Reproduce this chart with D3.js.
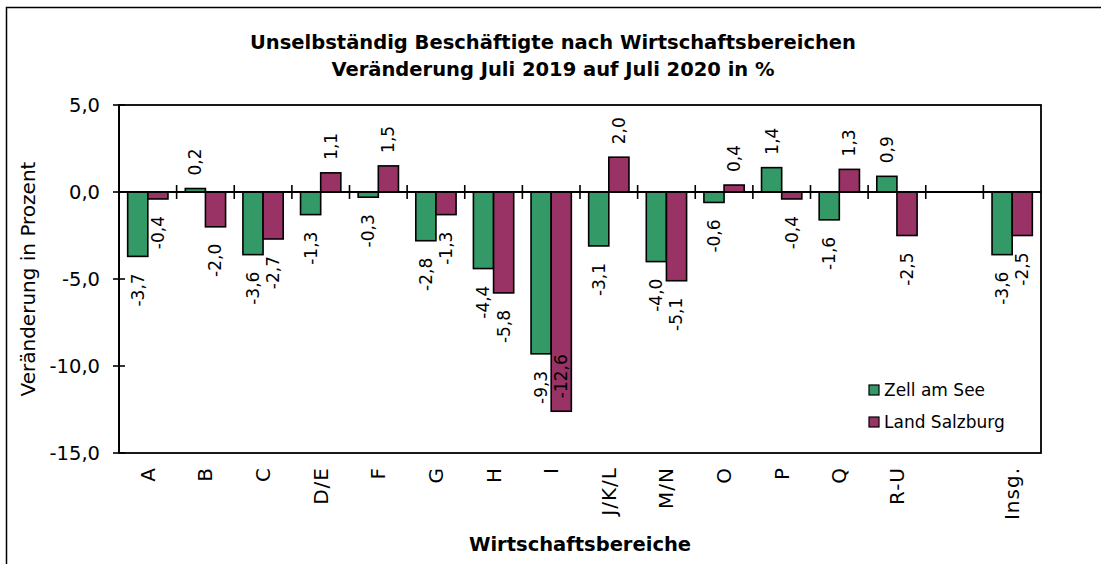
<!DOCTYPE html>
<html>
<head>
<meta charset="utf-8">
<style>
body, html {
  margin: 0;
  background: #fff;
  font-family: "DejaVu Sans", sans-serif;
}
.bar { stroke: #000; stroke-width: 1.6; }
.frame { fill: none; stroke: #000; stroke-width: 1.8; }
</style>
<script src="https://cdn.jsdelivr.net/npm/d3@7"></script>
</head>
<body>
<div id="chart"></div>
<script>

// data
var categories = ["A", "B", "C", "D/E", "F", "G", "H", "I", "J/K/L", "M/N", "O", "P", "Q", "R-U", "", "Insg."];
var zellAmSee = [-3.7, 0.2, -3.6, -1.3, -0.3, -2.8, -4.4, -9.3, -3.1, -4.0, -0.6, 1.4, -1.6, 0.9, null, -3.6];
var landSalzburg = [-0.4, -2.0, -2.7, 1.1, 1.5, -1.3, -5.8, -12.6, 2.0, -5.1, 0.4, -0.4, 1.3, -2.5, null, -2.5];
var seriesNames = ["Zell am See", "Land Salzburg"];
var yTicks = [5, 0, -5, -10, -15];
var titleLines = ["Unselbständig Beschäftigte nach Wirtschaftsbereichen", "Veränderung Juli 2019 auf Juli 2020 in %"];

var colors = ["#339966", "#993366"];

var width = 1101, height = 564;
var margin = {left: 119, right: 60, top: 105, bottom: 111};

var svg = d3.select("#chart").append("svg")
    .attr("width", width)
    .attr("height", height);

// outer chart frame (cut off at the right and bottom)
svg.append("rect")
    .attr("x", 6.5).attr("y", 7.5)
    .attr("width", width).attr("height", height)
    .attr("fill", "none").attr("stroke", "#000").attr("stroke-width", 1.5);

var x = d3.scaleBand()
    .domain(d3.range(categories.length))
    .range([margin.left, width - margin.right])
    .paddingInner(0).paddingOuter(0);

var y = d3.scaleLinear()
    .domain([-15, 5])
    .range([height - margin.bottom, margin.top]);

var inner = d3.scaleBand()
    .domain([0, 1])
    .range([0, x.bandwidth()])
    .paddingInner(0).paddingOuter(0.43);

// decimal comma, plain hyphen as minus
var fmt = function(v) { return d3.format(".1f")(v).replace(".", ",").replace("\u2212", "-"); };

// title
svg.append("g").selectAll("text")
  .data(titleLines)
  .enter().append("text")
    .attr("x", 553)
    .attr("y", function(d, i) { return 49 + i * 27; })
    .attr("text-anchor", "middle")
    .attr("font-size", 19.5)
    .attr("font-weight", "bold")
    .text(function(d) { return d; });

// plot frame
svg.append("rect")
    .attr("class", "frame")
    .attr("x", x.range()[0]).attr("y", y(5))
    .attr("width", x.range()[1] - x.range()[0])
    .attr("height", y(-15) - y(5));

// bars
var series = [zellAmSee, landSalzburg];
series.forEach(function(values, s) {
  var g = svg.append("g");
  values.forEach(function(v, i) {
    if (v === null) return;
    var bx = x(i) + inner(s);
    g.append("rect")
      .attr("class", "bar")
      .attr("fill", colors[s])
      .attr("x", bx)
      .attr("width", inner.bandwidth())
      .attr("y", y(Math.max(0, v)))
      .attr("height", Math.abs(y(v) - y(0)));

    var cx = bx + inner.bandwidth() / 2;
    var ly, anchor;
    if (v >= 0) {
      ly = y(v) - 13; anchor = "start";
    } else {
      ly = y(v) + 17; anchor = "end";
      // would overflow the plot: put it inside the bar end
      if (ly + 50 > y(-15)) { ly = y(v) - 13; anchor = "start"; }
    }
    g.append("text")
      .attr("transform", "translate(" + cx + "," + ly + ") rotate(-90)")
      .attr("text-anchor", anchor)
      .attr("dy", "0.35em")
      .attr("font-size", 17)
      .text(fmt(v));
  });
});

// zero line with category separators
svg.append("line")
    .attr("x1", x.range()[0]).attr("x2", x.range()[1])
    .attr("y1", y(0)).attr("y2", y(0))
    .attr("stroke", "#000").attr("stroke-width", 1.8);

svg.append("g").selectAll("line")
  .data(d3.range(1, categories.length))
  .enter().append("line")
    .attr("x1", function(i) { return x(i); })
    .attr("x2", function(i) { return x(i); })
    .attr("y1", y(0) - 7).attr("y2", y(0) + 7)
    .attr("stroke", "#000").attr("stroke-width", 1.6);

// y axis
var yAxis = svg.append("g");
yAxis.append("line")
    .attr("x1", margin.left).attr("x2", margin.left)
    .attr("y1", y(5)).attr("y2", y(-15))
    .attr("stroke", "#000").attr("stroke-width", 1.8);
yAxis.selectAll("line.tick")
  .data(yTicks)
  .enter().append("line")
    .attr("class", "tick")
    .attr("x1", margin.left - 6).attr("x2", margin.left + 6)
    .attr("y1", function(d) { return y(d); })
    .attr("y2", function(d) { return y(d); })
    .attr("stroke", "#000").attr("stroke-width", 1.6);
yAxis.selectAll("text")
  .data(yTicks)
  .enter().append("text")
    .attr("x", 100)
    .attr("y", function(d) { return y(d); })
    .attr("dy", "0.35em")
    .attr("text-anchor", "end")
    .attr("font-size", 19.5)
    .text(function(d) { return fmt(d); });

svg.append("text")
    .attr("transform", "translate(28," + y(-5) + ") rotate(-90)")
    .attr("text-anchor", "middle")
    .attr("dy", "0.35em")
    .attr("font-size", 20)
    .text("Veränderung in Prozent");

// x labels
svg.append("g").selectAll("text")
  .data(categories)
  .enter().append("text")
    .attr("transform", function(d, i) {
      return "translate(" + (x(i) + x.bandwidth() / 2) + ",467) rotate(-90)";
    })
    .attr("text-anchor", "end")
    .attr("dy", "0.35em")
    .attr("font-size", 20)
    .attr("letter-spacing", 1)
    .text(function(d) { return d; });

svg.append("text")
    .attr("x", (x.range()[0] + x.range()[1]) / 2)
    .attr("y", 551)
    .attr("text-anchor", "middle")
    .attr("font-size", 19.5)
    .attr("font-weight", "bold")
    .text("Wirtschaftsbereiche");

// legend
var legend = svg.append("g").attr("transform", "translate(869,385)");
seriesNames.forEach(function(name, i) {
  legend.append("rect")
    .attr("x", 0).attr("y", i * 32)
    .attr("width", 10).attr("height", 10)
    .attr("fill", colors[i]).attr("stroke", "#000").attr("stroke-width", 1.2);
  legend.append("text")
    .attr("x", 15).attr("y", i * 32 + 11)
    .attr("font-size", 17)
    .text(name);
});

</script>
</body>
</html>
